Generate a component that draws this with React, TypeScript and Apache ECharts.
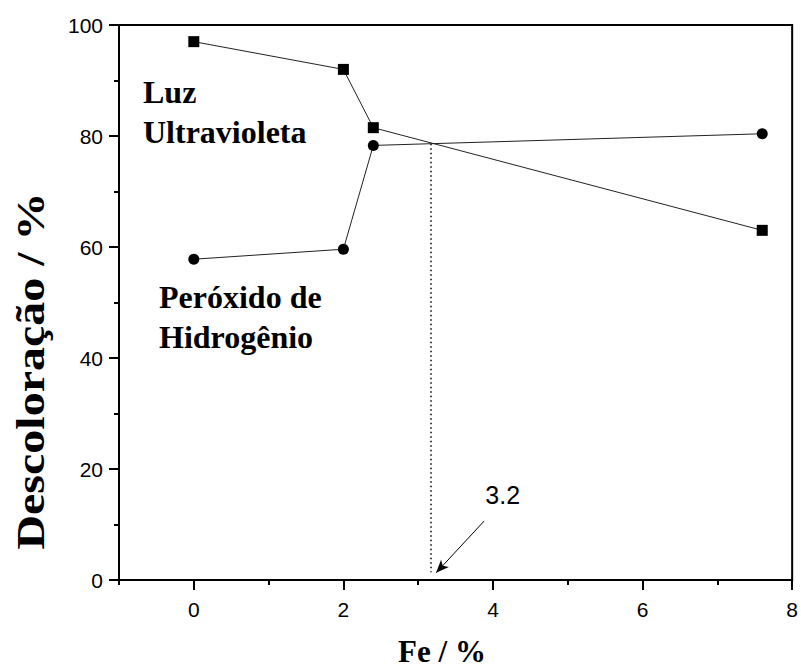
import React, { useEffect, useRef } from "react";
import * as echarts from "echarts";

const feUV = [0, 2, 2.4, 7.6];
const uvValues = [97, 92, 81.5, 63];
const feH2O2 = [0, 2, 2.4, 7.6];
const h2o2Values = [57.8, 59.6, 78.3, 80.4];
const xMajorTicks = [0, 2, 4, 6, 8];
const yMajorTicks = [0, 20, 40, 60, 80, 100];
const crossX = 3.17;
const crossY = 78.6;
const crossLabel = "3.2";

export default function App() {
  const ref = useRef<HTMLDivElement>(null);
  useEffect(() => {
    if (!ref.current) return;
    const chart = echarts.init(ref.current, null, { renderer: "svg" });
    const serif = "'Liberation Serif', 'Times New Roman', serif";
    const sans = "'Liberation Sans', Arial, sans-serif";
    const baseX = {
      type: "value" as const,
      min: -1,
      max: 8,
      gridIndex: 0,
      splitLine: { show: false },
    };
    const baseY = {
      type: "value" as const,
      min: 0,
      max: 100,
      gridIndex: 0,
      splitLine: { show: false },
    };
    chart.setOption({
      animation: false,
      backgroundColor: "#fff",
      grid: {
        left: 119,
        right: 6,
        top: 25,
        bottom: 87,
        show: true,
        borderColor: "#000",
        borderWidth: 2,
      },
      xAxis: [
        {
          ...baseX,
          interval: 1,
          axisLine: { show: true, onZero: false, lineStyle: { color: "#000", width: 2 } },
          axisTick: { show: true, length: 5, lineStyle: { color: "#000", width: 2 } },
          axisLabel: {
            margin: 19,
            color: "#000",
            fontFamily: sans,
            fontSize: 21,
            formatter: (v: number) => (xMajorTicks.includes(v) ? String(v) : ""),
          },
        },
        {
          ...baseX,
          interval: 2,
          position: "bottom",
          axisLine: { show: false, onZero: false },
          axisTick: { show: true, length: 10, lineStyle: { color: "#000", width: 2 }, customValues: xMajorTicks },
          axisLabel: { show: false },
        },
      ],
      yAxis: [
        {
          ...baseY,
          interval: 10,
          axisLine: { show: true, onZero: false, lineStyle: { color: "#000", width: 2 } },
          axisTick: { show: true, length: 5, lineStyle: { color: "#000", width: 2 } },
          axisLabel: {
            margin: 16,
            color: "#000",
            fontFamily: sans,
            fontSize: 21,
            formatter: (v: number) => (yMajorTicks.includes(v) ? String(v) : ""),
          },
        },
        {
          ...baseY,
          interval: 20,
          position: "left",
          axisLine: { show: false, onZero: false },
          axisTick: { show: true, length: 10, lineStyle: { color: "#000", width: 2 } },
          axisLabel: { show: false },
        },
      ],
      series: [
        {
          name: "Luz Ultravioleta",
          type: "line",
          data: feUV.map((x, i) => [x, uvValues[i]]),
          symbol: "rect",
          symbolSize: 11,
          itemStyle: { color: "#000" },
          lineStyle: { color: "#222", width: 1 },
          z: 5,
        },
        {
          name: "Peróxido de Hidrogênio",
          type: "line",
          data: feH2O2.map((x, i) => [x, h2o2Values[i]]),
          symbol: "circle",
          symbolSize: 11,
          itemStyle: { color: "#000" },
          lineStyle: { color: "#222", width: 1 },
          z: 5,
          markLine: {
            silent: true,
            animation: false,
            label: { show: false },
            emphasis: { disabled: true },
            data: [
              [
                { coord: [crossX, crossY], symbol: "none" },
                {
                  coord: [crossX, 1.4],
                  symbol: "none",
                  lineStyle: { color: "#000", width: 1.5, type: [1.5, 3] },
                },
              ],
              [
                { coord: [3.88, 10.6], symbol: "none" },
                {
                  coord: [3.24, 1.3],
                  symbol: "arrow",
                  symbolSize: [8, 13],
                  lineStyle: { color: "#000", width: 1, type: "solid" },
                },
              ],
            ],
            lineStyle: { color: "#000", width: 1.5, type: [1.5, 3] },
          },
          markPoint: {
            silent: true,
            symbol: "circle",
            symbolSize: 0,
            data: [
              {
                coord: [4.13, 15.3],
                label: {
                  show: true,
                  formatter: crossLabel,
                  position: "inside",
                  color: "#000",
                  fontFamily: sans,
                  fontSize: 25,
                },
              },
            ],
          },
        },
      ],
      graphic: [
        {
          type: "text",
          x: 31,
          y: 371,
          rotation: Math.PI / 2,
          scaleX: 1.2,
          style: {
            text: "Descoloração / %",
            font: `bold 40px ${serif}`,
            fill: "#000",
            align: "center",
            verticalAlign: "middle",
          },
        },
        {
          type: "text",
          x: 442,
          y: 651,
          style: {
            text: "Fe / %",
            font: `bold 31px ${serif}`,
            fill: "#000",
            align: "center",
            verticalAlign: "middle",
          },
        },
        {
          type: "text",
          x: 143,
          y: 92,
          style: { text: "Luz", font: `bold 32px ${serif}`, fill: "#000", align: "left", verticalAlign: "middle" },
        },
        {
          type: "text",
          x: 143,
          y: 132,
          style: { text: "Ultravioleta", font: `bold 32px ${serif}`, fill: "#000", align: "left", verticalAlign: "middle" },
        },
        {
          type: "text",
          x: 159,
          y: 297,
          style: { text: "Peróxido de", font: `bold 32px ${serif}`, fill: "#000", align: "left", verticalAlign: "middle" },
        },
        {
          type: "text",
          x: 159,
          y: 337,
          style: { text: "Hidrogênio", font: `bold 32px ${serif}`, fill: "#000", align: "left", verticalAlign: "middle" },
        },
      ],
    });
    return () => chart.dispose();
  }, []);
  return <div ref={ref} style={{ width: 801, height: 667, position: "absolute", left: 0, top: 0 }} />;
}
